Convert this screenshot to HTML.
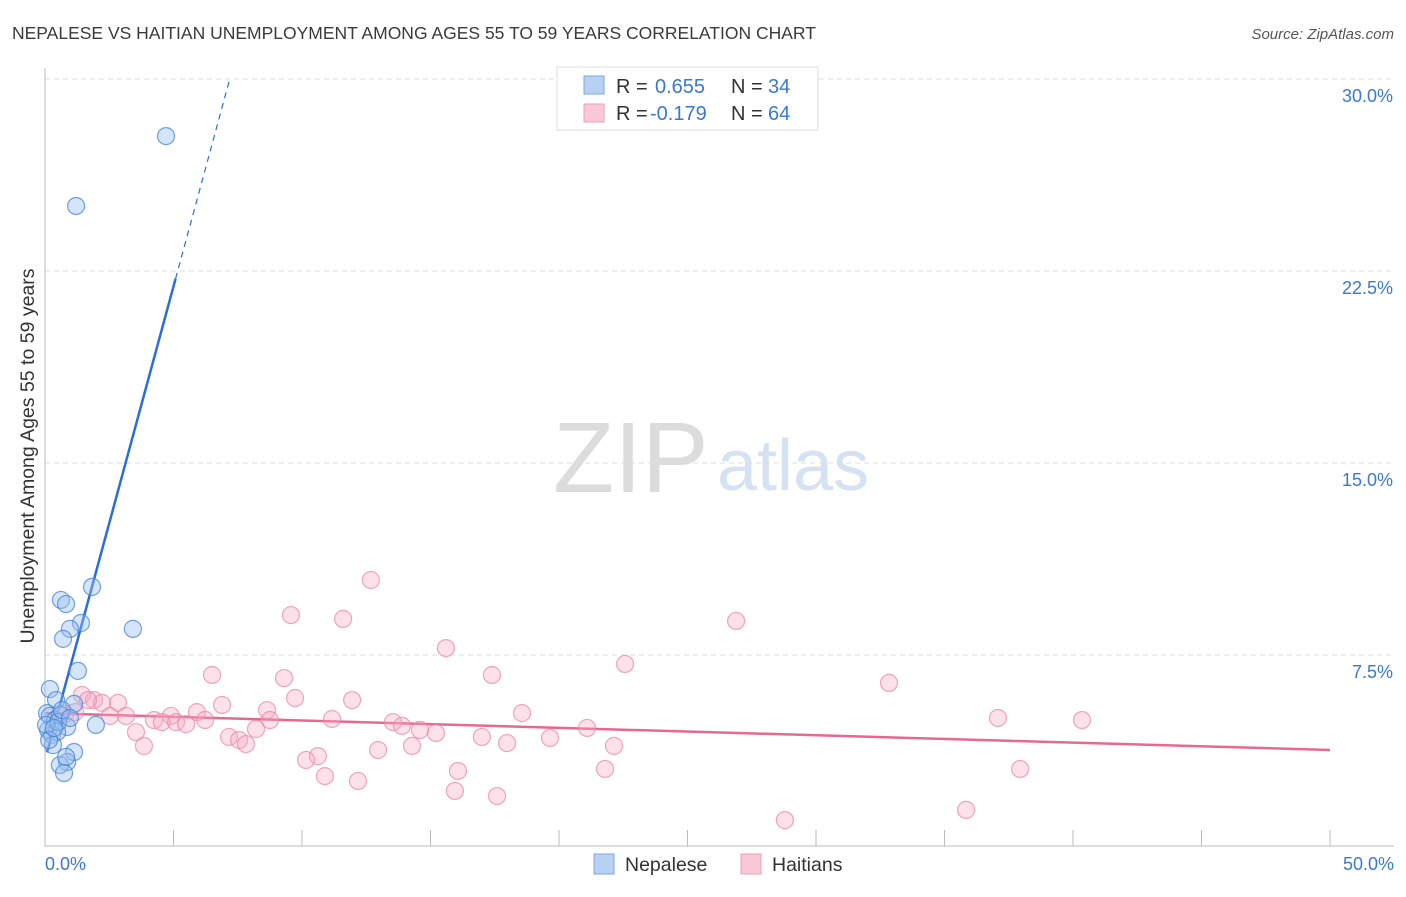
<!DOCTYPE html>
<html><head><meta charset="utf-8"><style>
body{margin:0;background:#fff;font-family:"Liberation Sans",sans-serif;}
svg text{font-family:"Liberation Sans",sans-serif;}
</style></head><body>
<svg id="chart" width="1406" height="892" xmlns="http://www.w3.org/2000/svg">
<text x="12" y="39" font-size="17.5" fill="#3a3a3a">NEPALESE VS HAITIAN UNEMPLOYMENT AMONG AGES 55 TO 59 YEARS CORRELATION CHART</text>
<text x="1394" y="39" font-size="15" fill="#555" font-style="italic" text-anchor="end">Source: ZipAtlas.com</text>
<g>
<text x="553" y="492" font-size="100" fill="#dcdcdc" font-family="Liberation Serif,serif">ZIP</text>
<text x="717" y="490" font-size="72" fill="#d5e2f3">atlas</text>
</g>
<g id="grid"></g>
<g id="axes"></g>
<g id="trends"></g>
<g id="points"></g>
<text transform="translate(34,456) rotate(-90)" font-size="19.5" fill="#333" text-anchor="middle">Unemployment Among Ages 55 to 59 years</text>
<g>
<rect x="557" y="67" width="261" height="63" fill="#fff" stroke="#ddd"/>
<rect x="584" y="76" width="20" height="18" fill="#b8d1f3" stroke="#7ea7e0"/>
<rect x="584" y="104" width="20" height="18" fill="#f9c8d7" stroke="#eea0b8"/>
<text x="616" y="93" font-size="20" fill="#333">R = </text><text x="655" y="93" font-size="20" fill="#3a78d6">0.655</text>
<text x="731" y="93" font-size="20" fill="#333">N = </text><text x="768" y="93" font-size="20" fill="#3a78d6">34</text>
<text x="616" y="120" font-size="20" fill="#333">R = </text><text x="650" y="120" font-size="20" fill="#3a78d6">-0.179</text>
<text x="731" y="120" font-size="20" fill="#333">N = </text><text x="768" y="120" font-size="20" fill="#3a78d6">64</text>
</g>
<g>
<rect x="594" y="854" width="20" height="20" fill="#b8d1f3" stroke="#7ea7e0"/>
<text x="625" y="871" font-size="19.5" fill="#333">Nepalese</text>
<rect x="741" y="854" width="20" height="20" fill="#f9c8d7" stroke="#eea0b8"/>
<text x="772" y="871" font-size="19.5" fill="#333">Haitians</text>
</g>
</svg>
<script>
const yTicks=[7.5,15,22.5,30];
const yTickLabels=["7.5%","15.0%","22.5%","30.0%"];
const xTickLabels=["0.0%","50.0%"];
const nepX=[4.71,1.21,1.83,0.62,0.82,3.42,1.40,0.97,0.70,1.28,1.98,0.19,0.43,1.13,0.08,0.19,0.39,0.58,0.86,0.12,0.27,0.47,0.31,1.13,0.86,0.58,0.74,0.82,0.04,0.16,0.51,0.66,0.97,0.35];
const nepY=[27.77,25.04,10.16,9.65,9.49,8.52,8.75,8.52,8.13,6.88,4.77,6.17,5.74,5.59,5.23,5.12,4.96,5.16,4.69,4.57,4.38,4.49,3.98,3.71,3.32,3.20,2.89,3.52,4.77,4.18,4.88,5.35,5.04,4.65];
const haiX=[12.68,9.57,11.60,26.89,15.60,22.57,6.50,17.39,9.30,32.84,1.44,9.73,11.95,1.91,2.84,2.22,6.89,18.56,8.64,5.91,3.15,4.90,0.78,2.53,37.08,40.35,4.24,4.55,5.10,6.23,5.49,8.75,11.17,13.54,13.89,14.59,15.21,21.09,3.54,7.16,7.55,7.82,8.21,3.85,17.00,17.98,19.65,12.96,14.28,22.14,10.62,10.16,16.07,21.79,37.94,10.89,12.18,15.95,17.59,28.79,35.84,1.67,1.17,0.58];
const haiY=[10.43,9.06,8.91,8.83,7.77,7.15,6.72,6.72,6.60,6.41,5.94,5.82,5.74,5.74,5.63,5.63,5.55,5.23,5.35,5.27,5.12,5.12,5.20,5.12,5.04,4.96,4.96,4.88,4.88,4.96,4.80,4.96,5.00,4.88,4.73,4.57,4.45,4.65,4.49,4.30,4.18,4.02,4.61,3.95,4.30,4.06,4.26,3.79,3.95,3.95,3.55,3.40,2.97,3.05,3.05,2.77,2.58,2.19,1.99,1.05,1.45,5.74,5.27,5.16];
const nepTrend=[3.4,3.7];   // intercept, slope
const haiTrend=[5.23,-0.0288];
const X=v=>45+v*25.7, Y=v=>847-v*25.6;
const NS="http://www.w3.org/2000/svg";
function mk(parent,tag,attrs){const e=document.createElementNS(NS,tag);for(const k in attrs)e.setAttribute(k,attrs[k]);document.getElementById(parent).appendChild(e);return e;}
yTicks.forEach((t,i)=>{
 const l=mk('grid','line',{x1:45,x2:1394,y1:Y(t),y2:Y(t),stroke:'#ddd','stroke-dasharray':'5,4'});
 
 
 const tx=mk('grid','text',{x:1393,y:Y(t)+23,'font-size':18,fill:'#3a78d6','text-anchor':'end'});
 tx.textContent=yTickLabels[i];
 
 
});
let ax=mk('axes','line',{x1:45,x2:45,y1:68,y2:846,stroke:'#bbb'});


let bx=mk('axes','line',{x1:45,x2:1394,y1:846,y2:846,stroke:'#bbb'});


for(let i=0;i<=10;i++){let t=mk('axes','line',{x1:X(i*5),x2:X(i*5),y1:830,y2:846,stroke:'#bbb'});}
[[0,'start',45],[50,'end',1394]].forEach((d,i)=>{const t=mk('axes','text',{x:d[2],y:870,'font-size':18,fill:'#3a78d6','text-anchor':d[1]});t.textContent=xTickLabels[i];});
const xs=0.08,xe=(22.2-nepTrend[0])/nepTrend[1],xd=(30-nepTrend[0])/nepTrend[1];
let t1=mk('trends','line',{x1:X(xs),y1:Y(nepTrend[0]+nepTrend[1]*xs),x2:X(xe),y2:Y(nepTrend[0]+nepTrend[1]*xe),stroke:'#2a6fd6','stroke-width':2.5});


let t2=mk('trends','line',{x1:X(xe),y1:Y(nepTrend[0]+nepTrend[1]*xe),x2:X(xd),y2:Y(30),stroke:'#2a6fd6','stroke-width':1.2,'stroke-dasharray':'6,5'});


let t3=mk('trends','line',{x1:X(0),y1:Y(haiTrend[0]),x2:X(50),y2:Y(haiTrend[0]+haiTrend[1]*50),stroke:'#e8688f','stroke-width':2.5});


haiX.forEach((x,i)=>{const c=mk('points','circle',{cx:X(x),cy:Y(haiY[i]),r:8.5,fill:'rgba(246,170,195,0.35)',stroke:'rgba(236,130,165,0.7)','stroke-width':1.2});
 
 });
nepX.forEach((x,i)=>{const c=mk('points','circle',{cx:X(x),cy:Y(nepY[i]),r:8.5,fill:'rgba(150,190,240,0.4)',stroke:'rgba(70,130,215,0.75)','stroke-width':1.2});
 
 });
</script>
</body></html>
